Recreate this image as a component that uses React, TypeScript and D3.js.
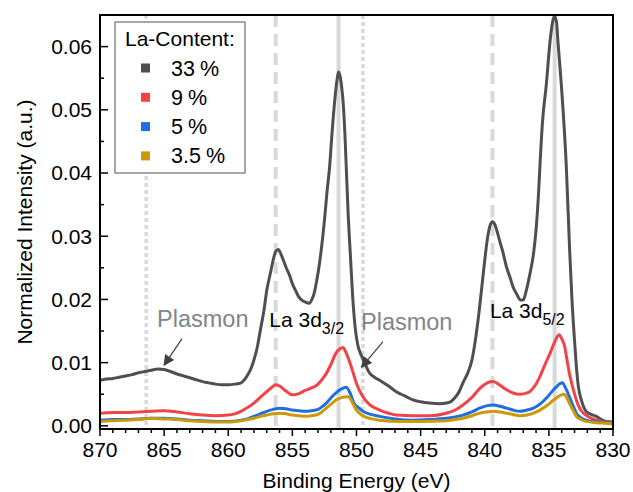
import * as d3 from "d3";

// La 3d XPS spectra, [binding energy (eV), normalized intensity]
const la33: [number, number][] = [
  [870, 0.0072], [869.5, 0.0074], [869, 0.0075], [868.5, 0.0077], [868, 0.0079],
  [867.5, 0.0081], [867, 0.0084], [866.5, 0.0086], [866, 0.0088], [865.5, 0.009],
  [865, 0.0089], [864.5, 0.0086], [864, 0.0082], [863.5, 0.0079], [863, 0.0076],
  [862.5, 0.0073], [862, 0.007], [861.5, 0.0068], [861, 0.0066], [860.5, 0.0065],
  [860, 0.0065], [859.5, 0.0066], [859, 0.0068], [858.7, 0.0074], [858.5, 0.008],
  [858.2, 0.0092], [858, 0.0104], [857.7, 0.0128], [857.5, 0.0151], [857.2, 0.0185],
  [857, 0.0214], [856.7, 0.0243], [856.5, 0.0262], [856.3, 0.0276], [856.1, 0.0279],
  [855.9, 0.0272], [855.7, 0.0262], [855.5, 0.0251], [855.2, 0.0237], [855, 0.0225],
  [854.7, 0.0212], [854.5, 0.0204], [854.2, 0.0198], [854, 0.0196], [853.7, 0.0194],
  [853.5, 0.0199], [853.3, 0.021], [853.1, 0.023], [852.9, 0.0255], [852.75, 0.0278],
  [852.5, 0.0325], [852.3, 0.037], [852.1, 0.0409], [851.9, 0.0465], [851.7, 0.0514],
  [851.5, 0.055], [851.4, 0.056], [851.3, 0.0555], [851.15, 0.0535], [851.05, 0.0514],
  [850.9, 0.046], [850.8, 0.041], [850.65, 0.0335], [850.45, 0.026], [850.3, 0.0205],
  [850.1, 0.0155], [849.9, 0.0128], [849.7, 0.0115], [849.5, 0.0106], [849.2, 0.0092],
  [849, 0.0084], [848.6, 0.0077], [848.2, 0.0072], [847.5, 0.0063], [846.9, 0.0054],
  [846.2, 0.0047], [845.6, 0.0041], [845, 0.0038], [844.3, 0.0036], [843.5, 0.0035],
  [843, 0.0036], [842.6, 0.0039], [842.35, 0.0044], [842, 0.0054], [841.7, 0.0068],
  [841.3, 0.0085], [841, 0.0104], [840.7, 0.014], [840.4, 0.0188], [840.2, 0.0225],
  [840, 0.0262], [839.8, 0.0295], [839.6, 0.0316], [839.4, 0.0323], [839.2, 0.0318],
  [839, 0.0305], [838.8, 0.029], [838.6, 0.0276], [838.3, 0.0251], [838, 0.0233],
  [837.8, 0.022], [837.5, 0.0208], [837.2, 0.0199], [837, 0.0199], [836.75, 0.0215],
  [836.5, 0.0238], [836.2, 0.0272], [836, 0.031], [835.8, 0.037], [835.7, 0.041],
  [835.5, 0.048], [835.2, 0.054], [834.9, 0.061], [834.7, 0.064], [834.55, 0.0648],
  [834.4, 0.0638], [834.3, 0.061], [834.03, 0.054], [833.64, 0.041], [833.38, 0.0278],
  [833.2, 0.02], [833, 0.0135], [832.86, 0.0095], [832.7, 0.0062], [832.47, 0.0041],
  [832.1, 0.0023], [831.7, 0.0018], [831.3, 0.0015], [830.9, 0.001], [830.5, 0.0007],
  [830, 0.0006],
];

const la9: [number, number][] = [
  [870, 0.002], [869, 0.0021], [868, 0.0021], [867, 0.0022], [866, 0.0023],
  [865, 0.0024], [864, 0.0022], [863, 0.0019], [862, 0.0017], [861, 0.0016],
  [860, 0.0017], [859.5, 0.0019], [859, 0.0023], [858.5, 0.0029], [858, 0.0036],
  [857.5, 0.0045], [857, 0.0054], [856.6, 0.0061], [856.3, 0.0065], [856, 0.0063],
  [855.5, 0.0055], [855, 0.0049], [854.5, 0.0051], [854, 0.0056], [853.5, 0.006],
  [853, 0.0066], [852.7, 0.0073], [852.35, 0.0083], [852, 0.0097], [851.6, 0.0115],
  [851.3, 0.0122], [851.05, 0.0124], [850.8, 0.0115], [850.5, 0.0099], [850.2, 0.008],
  [850, 0.0067], [849.5, 0.0046], [849, 0.0034], [848.2, 0.0025], [847.5, 0.002],
  [846.9, 0.0017], [845.6, 0.0016], [844.3, 0.0016], [843, 0.002], [842.3, 0.0025],
  [841.7, 0.0033], [841, 0.0045], [840.4, 0.0059], [839.8, 0.0068], [839.35, 0.007],
  [838.8, 0.0064], [838.3, 0.0057], [837.8, 0.0052], [837.3, 0.005], [836.9, 0.0051],
  [836.5, 0.0054], [836.1, 0.0063], [835.7, 0.0078], [835.3, 0.0097], [834.9, 0.0115],
  [834.5, 0.0135], [834.2, 0.0144], [834, 0.0138], [833.76, 0.0125], [833.6, 0.0106],
  [833.4, 0.0083], [833.1, 0.0058], [832.86, 0.0041], [832.6, 0.0028], [832.3, 0.002],
  [831.8, 0.0013], [831.3, 0.0009], [830.5, 0.0006], [830, 0.0005],
];

const la5: [number, number][] = [
  [870, 0.0009], [869, 0.001], [868, 0.001], [867, 0.0011], [866, 0.0012],
  [865, 0.0012], [864, 0.0011], [863, 0.0009], [862, 0.0008], [861, 0.0007],
  [860, 0.0007], [859, 0.0009], [858.5, 0.0011], [858, 0.0015], [857.5, 0.0019],
  [857, 0.0023], [856.5, 0.0026], [856, 0.0028], [855.5, 0.0027], [855, 0.0025],
  [854.5, 0.0024], [854, 0.0023], [853.5, 0.0024], [853, 0.0026], [852.7, 0.003],
  [852.35, 0.0036], [852, 0.0044], [851.6, 0.0052], [851.2, 0.0058], [850.8, 0.0061],
  [850.5, 0.0052], [850.2, 0.0036], [849.8, 0.0028], [849.5, 0.0023], [848.2, 0.0015],
  [847, 0.0011], [845.6, 0.0009], [844.3, 0.001], [843, 0.0012], [842.3, 0.0014],
  [841.7, 0.0017], [841, 0.0022], [840.4, 0.0028], [839.8, 0.0032], [839.35, 0.0033],
  [838.8, 0.0031], [838.3, 0.0028], [837.8, 0.0025], [837.3, 0.0023], [836.7, 0.0025],
  [836.2, 0.0028], [835.6, 0.0036], [835.1, 0.0046], [834.5, 0.006], [833.95, 0.0068],
  [833.7, 0.006], [833.4, 0.0046], [833.1, 0.0031], [832.86, 0.002], [832.5, 0.0013],
  [832.1, 0.0009], [831.3, 0.0006], [830.5, 0.0005], [830, 0.0004],
];

const la35: [number, number][] = [
  [870, 0.0007], [869, 0.0008], [868, 0.0009], [867, 0.001], [866, 0.0012],
  [865, 0.0011], [864, 0.001], [863, 0.0008], [862, 0.0007], [861, 0.0006],
  [860, 0.0006], [859, 0.0008], [858, 0.0012], [857.5, 0.0015], [857, 0.0017],
  [856.5, 0.0019], [856, 0.002], [855.5, 0.0019], [855, 0.0017], [854.5, 0.0016],
  [854, 0.0015], [853.5, 0.0016], [853, 0.0018], [852.7, 0.0022], [852.35, 0.0028],
  [852, 0.0034], [851.6, 0.0041], [851.1, 0.0045], [850.65, 0.0046], [850.3, 0.0036],
  [850, 0.0025], [849.5, 0.0016], [848.8, 0.0011], [848.2, 0.0009], [846.5, 0.0007],
  [845, 0.0007], [843, 0.0008], [842.3, 0.001], [841.7, 0.0012], [841, 0.0016],
  [840.4, 0.002], [839.8, 0.0022], [839.35, 0.0023], [838.8, 0.0022], [838.3, 0.002],
  [837.8, 0.0018], [837.3, 0.0016], [836.7, 0.0017], [836.2, 0.002], [835.6, 0.0026],
  [835.1, 0.0033], [834.5, 0.0043], [833.85, 0.005], [833.6, 0.0045], [833.4, 0.0036],
  [833.1, 0.0024], [832.86, 0.0015], [832.5, 0.001], [832.1, 0.0007], [831.3, 0.0005],
  [830.5, 0.0004], [830, 0.0003],
];

const seriesNames = ["33", "9", "5", "3.5"];
const seriesData = [la33, la9, la5, la35];
const seriesColors = ["#4f4f4f", "#f24448", "#1f6fe0", "#cc9a06"];

const xTicks = [870, 865, 860, 855, 850, 845, 840, 835, 830];
const yTicks = [0, 0.01, 0.02, 0.03, 0.04, 0.05, 0.06];

// vertical guide lines (eV)
const guideEnergies = [866.4, 856.3, 851.4, 849.5, 839.4, 834.55];
const guideKinds = ["dot", "dash", "solid", "dot", "dash", "solid"];

export default function App() {
  const width = 633;
  const height = 492;
  const left = 100;
  const right = 613;
  const top = 15;
  const bottom = 429;
  const font = "'Liberation Sans', Arial, sans-serif";

  const x = d3.scaleLinear().domain([870, 830]).range([left, right]);
  const y = d3.scaleLinear().domain([-0.0005, 0.065]).range([bottom, top]);

  const line = d3
    .line<[number, number]>()
    .x((d) => x(d[0]))
    .y((d) => y(d[1]))
    .curve(d3.curveMonotoneX);

  const minorX = d3.range(830, 871, 1);
  const minorY = d3.range(0, 0.0651, 0.005);

  const dashFor = (k: string) =>
    k === "dot" ? "4 3" : k === "dash" ? "12 7" : undefined;

  return (
    <svg
      width={width}
      height={height}
      style={{ position: "absolute", left: 0, top: 0, background: "white" }}
      fontFamily={font}
    >
      <defs>
        <clipPath id="plot">
          <rect x={left} y={top} width={right - left} height={bottom - top} />
        </clipPath>
        <marker
          id="arrow"
          viewBox="0 0 10 10"
          refX="9"
          refY="5"
          markerWidth="13"
          markerHeight="11"
          markerUnits="userSpaceOnUse"
          orient="auto"
        >
          <path d="M0,0 L10,5 L0,10 z" fill="#404040" />
        </marker>
      </defs>

      {/* guide lines */}
      <g clipPath="url(#plot)">
        {guideEnergies.map((e, i) => (
          <line
            key={i}
            x1={x(e)}
            x2={x(e)}
            y1={top}
            y2={bottom}
            stroke="#d9d9d9"
            strokeWidth={guideKinds[i] === "dot" ? 3.5 : 4}
            strokeDasharray={dashFor(guideKinds[i])}
          />
        ))}
      </g>

      {/* spectra */}
      <g clipPath="url(#plot)">
        {seriesData.map((d, i) => (
          <path
            key={seriesNames[i]}
            d={line(d) ?? ""}
            fill="none"
            stroke={seriesColors[i]}
            strokeWidth={3}
            strokeLinejoin="round"
          />
        ))}
      </g>

      {/* annotations */}
      <g fontSize={21}>
        <text x={x(865.55)} y={y(0.0156)} fill="#80858c" fontSize={23.5}>
          Plasmon
        </text>
        <line
          x1={x(863.6)}
          y1={y(0.0138)}
          x2={x(865)}
          y2={y(0.0096)}
          stroke="#404040"
          strokeWidth={1.2}
          markerEnd="url(#arrow)"
        />
        <text x={x(856.8)} y={y(0.0157)} fill="black">
          La 3d
          <tspan fontSize={16} dy={7}>
            3/2
          </tspan>
        </text>
        <text x={x(849.65)} y={y(0.0151)} fill="#80858c" fontSize={23.5}>
          Plasmon
        </text>
        <line
          x1={x(847.95)}
          y1={y(0.0133)}
          x2={x(849.6)}
          y2={y(0.0093)}
          stroke="#404040"
          strokeWidth={1.2}
          markerEnd="url(#arrow)"
        />
        <text x={x(839.6)} y={y(0.0171)} fill="black">
          La 3d
          <tspan fontSize={16} dy={7}>
            5/2
          </tspan>
        </text>
      </g>

      {/* frame */}
      <rect
        x={left}
        y={top}
        width={right - left}
        height={bottom - top}
        fill="none"
        stroke="black"
        strokeWidth={2}
      />

      {/* x axis ticks */}
      <g>
        {minorX.map((t) => (
          <line
            key={"mx" + t}
            x1={x(t)}
            x2={x(t)}
            y1={bottom}
            y2={bottom + (t % 5 === 0 ? 7 : 4)}
            stroke="black"
            strokeWidth={1.5}
          />
        ))}
        {xTicks.map((t) => (
          <text
            key={"xl" + t}
            x={x(t)}
            y={bottom + 28}
            textAnchor="middle"
            fontSize={21}
          >
            {t}
          </text>
        ))}
        <text
          x={(left + right) / 2}
          y={488}
          textAnchor="middle"
          fontSize={21}
        >
          Binding Energy (eV)
        </text>
      </g>

      {/* y axis ticks */}
      <g>
        {minorY.map((t, i) => (
          <line
            key={"my" + i}
            x1={left}
            x2={left + (i % 2 === 0 ? 8 : 4)}
            y1={y(t)}
            y2={y(t)}
            stroke="black"
            strokeWidth={1.5}
          />
        ))}
        {yTicks.map((t) => (
          <text
            key={"yl" + t}
            x={92}
            y={y(t)}
            dy="0.35em"
            textAnchor="end"
            fontSize={21}
          >
            {t.toFixed(2)}
          </text>
        ))}
        <text
          transform={`translate(32, ${(top + bottom) / 2}) rotate(-90)`}
          textAnchor="middle"
          fontSize={21}
        >
          Normalized Intensity (a.u.)
        </text>
      </g>

      {/* legend */}
      <g>
        <rect
          x={115}
          y={22}
          width={130}
          height={151}
          fill="white"
          stroke="#8a8a8a"
          strokeWidth={1.5}
        />
        <text x={125} y={46} fontSize={21}>
          La-Content:
        </text>
        {seriesNames.map((n, i) => (
          <g key={n} transform={`translate(0, ${68 + i * 29.3})`}>
            <rect x={141} y={-4.5} width={9} height={9} fill={seriesColors[i]} />
            <text x={171} y={0} dy="0.35em" fontSize={21.5}>
              {n}
              <tspan dx={5}>%</tspan>
            </text>
          </g>
        ))}
      </g>
    </svg>
  );
}
